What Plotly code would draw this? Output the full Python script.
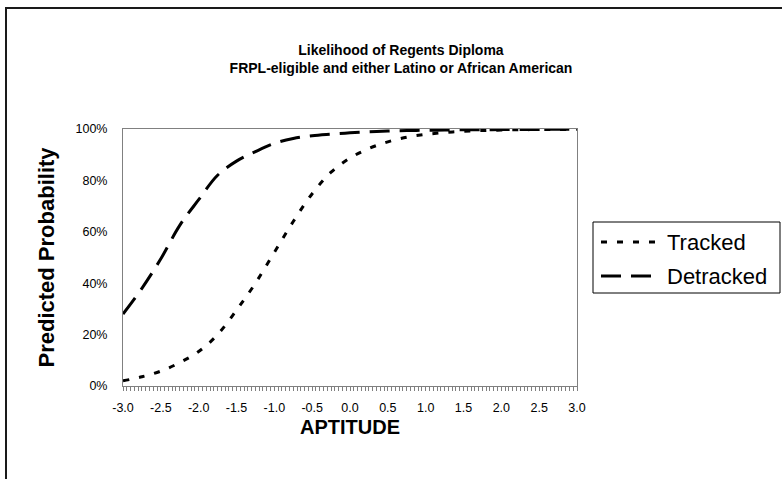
import plotly.graph_objects as go

# ---- data ----
aptitude = [-3.0, -2.75, -2.5, -2.25, -2.0, -1.75, -1.5, -1.25, -1.0, -0.75, -0.5, -0.25,
            0.0, 0.25, 0.5, 0.75, 1.0, 1.25, 1.5, 1.75, 2.0, 2.25, 2.5, 2.75, 3.0]
tracked = [0.020, 0.036, 0.058, 0.091, 0.134, 0.200, 0.295, 0.400, 0.520, 0.640, 0.748, 0.832,
           0.887, 0.924, 0.950, 0.968, 0.979, 0.986, 0.991, 0.994, 0.996, 0.997, 0.998, 0.998, 0.999]
detracked = [0.280, 0.380, 0.495, 0.625, 0.725, 0.820, 0.875, 0.912, 0.944, 0.963, 0.974, 0.980,
             0.985, 0.989, 0.992, 0.994, 0.995, 0.996, 0.997, 0.997, 0.998, 0.998, 0.998, 0.999, 0.999]
series_names = ["Tracked", "Detracked"]
y_ticks = [0, 0.2, 0.4, 0.6, 0.8, 1.0]
x_ticks = [-3.0, -2.5, -2.0, -1.5, -1.0, -0.5, 0.0, 0.5, 1.0, 1.5, 2.0, 2.5, 3.0]

W, H = 782, 479
ML, MR, MT, MB = 123, 205, 129, 93
PW, PH = W - ML - MR, H - MT - MB

def px_x(p):
    return (p - ML) / PW

def px_y(p):
    return (H - MB - p) / PH

font = "Liberation Sans, Arial, sans-serif"
dash_tracked = "6px,10px"
dash_detracked = "20px,10px"

fig = go.Figure()
fig.add_trace(go.Scatter(x=aptitude, y=tracked, mode="lines", name=series_names[0],
                         line=dict(color="black", width=3, dash=dash_tracked, shape="spline")))
fig.add_trace(go.Scatter(x=aptitude, y=detracked, mode="lines", name=series_names[1],
                         line=dict(color="black", width=3, dash=dash_detracked, shape="spline")))

# custom legend (box, line samples, labels)
leg_x0, leg_x1, leg_y0, leg_y1 = 593, 780, 222, 293
rows_y = [242, 276]
shapes = [
    dict(type="rect", xref="paper", yref="paper",
         x0=px_x(6), x1=px_x(800), y0=px_y(500), y1=px_y(8),
         line=dict(color="#1a1a1a", width=2), fillcolor="rgba(0,0,0,0)", layer="below"),
    dict(type="rect", xref="paper", yref="paper",
         x0=px_x(leg_x0), x1=px_x(leg_x1), y0=px_y(leg_y1), y1=px_y(leg_y0),
         line=dict(color="black", width=1), fillcolor="white"),
]
annotations = [
    dict(text="<b>Predicted Probability</b>", x=px_x(46), y=0.5, xref="paper", yref="paper",
         textangle=-90, showarrow=False, xanchor="center", yanchor="middle",
         font=dict(size=22, family=font, color="black")),
    dict(text="<b>APTITUDE</b>", x=px_x(350), y=px_y(427), xref="paper", yref="paper",
         showarrow=False, xanchor="center", yanchor="middle",
         font=dict(size=20, family=font, color="black")),
]
for name, dash, ry in zip(series_names, [dash_tracked, dash_detracked], rows_y):
    shapes.append(dict(type="line", xref="paper", yref="paper",
                       x0=px_x(601), x1=px_x(660), y0=px_y(ry), y1=px_y(ry),
                       line=dict(color="black", width=3, dash=dash)))
    annotations.append(dict(text=name, x=px_x(665), y=px_y(ry), xref="paper", yref="paper",
                            showarrow=False, xanchor="left", yanchor="middle",
                            font=dict(size=22, family=font, color="black")))

fig.update_layout(
    width=W, height=H,
    margin=dict(l=ML, r=MR, t=MT, b=MB),
    paper_bgcolor="white", plot_bgcolor="white",
    font=dict(family=font, color="black"),
    title=dict(text="<b>Likelihood of Regents Diploma<br>FRPL-eligible and either Latino or African American</b>",
               x=401 / W, xanchor="center", xref="container",
               y=1 - 55 / H, yanchor="middle", yref="container",
               font=dict(size=14, family=font, color="black")),
    showlegend=False,
    xaxis=dict(range=[-3, 3], tickvals=x_ticks, ticktext=[f"{v:.1f}" for v in x_ticks],
               showgrid=False, zeroline=False,
               showline=True, linecolor="#808080", linewidth=1, mirror=True,
               ticks="outside", ticklen=4, tickcolor="#808080",
               minor=dict(dtick=0.05, tick0=-3, ticks="outside", ticklen=4, tickcolor="#808080"),
               tickfont=dict(size=12.5, family=font, color="black"),
               ticklabelstandoff=6),
    yaxis=dict(range=[0, 1], tickvals=y_ticks, tickformat=".0%",
               showgrid=False, zeroline=False,
               showline=True, linecolor="#808080", linewidth=1, mirror=True,
               ticks="", ticklabelstandoff=12,
               tickfont=dict(size=12.5, family=font, color="black")),
    annotations=annotations,
    shapes=shapes,
)

fig.write_html("out.html", config={"displayModeBar": False},
               post_script="document.body.style.margin='0';document.body.style.overflow='hidden';")
